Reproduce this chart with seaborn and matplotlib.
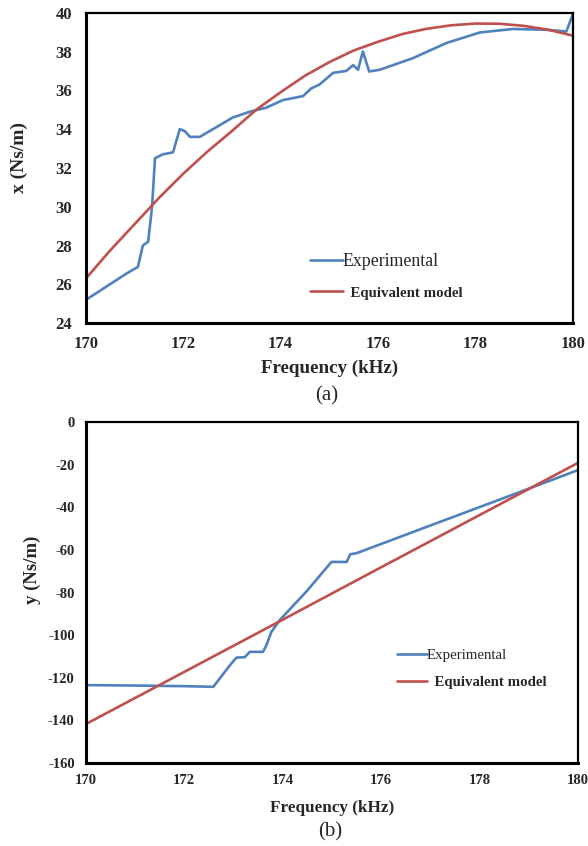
import matplotlib
matplotlib.use("Agg")
import matplotlib.pyplot as plt
import seaborn as sns
import pandas as pd

# ---- panel (a): x coefficient ----
freq_a_exp = [170.0, 170.83, 171.07, 171.17, 171.28, 171.36, 171.42, 171.58, 171.79,
              171.93, 172.03, 172.14, 172.34, 172.68, 173.02, 173.37, 173.7, 174.05,
              174.46, 174.63, 174.8, 175.08, 175.35, 175.49, 175.59, 175.69, 175.82,
              176.04, 176.72, 177.41, 178.09, 178.77, 179.46, 179.87, 180.0]
x_exp = [25.2, 26.55, 26.9, 28.0, 28.2, 30.0, 32.5, 32.7, 32.8,
         34.0, 33.9, 33.6, 33.6, 34.1, 34.6, 34.9, 35.1, 35.5,
         35.7, 36.1, 36.3, 36.9, 37.0, 37.3, 37.06, 38.0, 36.97,
         37.06, 37.66, 38.44, 38.98, 39.16, 39.12, 39.03, 39.9]

freq_a_model = [170.0, 170.5, 171.0, 171.5, 172.0, 172.5, 173.0, 173.5, 174.0, 174.5,
                175.0, 175.5, 176.0, 176.5, 177.0, 177.5, 178.0, 178.5, 179.0, 179.5, 180.0]
x_model = [26.3, 27.75, 29.1, 30.45, 31.7, 32.85, 33.9, 35.0, 35.9, 36.75,
           37.45, 38.05, 38.5, 38.9, 39.17, 39.35, 39.44, 39.43, 39.32, 39.12, 38.82]

# ---- panel (b): y coefficient ----
freq_b_exp = [170.0, 171.0, 172.0, 172.59, 172.93, 173.06, 173.23, 173.33, 173.6,
              173.67, 173.77, 173.94, 174.5, 174.99, 175.3, 175.37, 175.5, 177.0,
              178.69, 180.0]
y_exp = [-123.4, -123.6, -123.9, -124.2, -114.0, -110.5, -110.3, -107.8, -107.8,
         -104.6, -98.4, -92.9, -79.0, -65.6, -65.6, -62.0, -61.5, -48.5,
         -33.9, -22.5]

freq_b_model = [170.0, 172.0, 174.0, 176.0, 178.0, 180.0]
y_model = [-141.7, -117.2, -92.7, -68.1, -43.6, -19.1]

x_ticks = [170, 172, 174, 176, 178, 180]
a_yticks = [24, 26, 28, 30, 32, 34, 36, 38, 40]
b_yticks = [0, -20, -40, -60, -80, -100, -120, -140, -160]

BLUE = "#4f81bd"
RED = "#c0504d"

sns.set_style("white")
plt.rcParams["font.family"] = ["Liberation Serif", "DejaVu Serif"]
plt.rcParams["axes.unicode_minus"] = False

fig = plt.figure(figsize=(5.88, 8.46), dpi=100)
ax_a = fig.add_axes([0.146, 0.618, 0.828, 0.367])
ax_b = fig.add_axes([0.146, 0.098, 0.837, 0.403])

df_a_exp = pd.DataFrame({"f": freq_a_exp, "v": x_exp})
df_a_mod = pd.DataFrame({"f": freq_a_model, "v": x_model})
df_b_exp = pd.DataFrame({"f": freq_b_exp, "v": y_exp})
df_b_mod = pd.DataFrame({"f": freq_b_model, "v": y_model})

sns.lineplot(data=df_a_exp, x="f", y="v", ax=ax_a, color=BLUE, lw=1.9,
             label="Experimental", sort=False)
sns.lineplot(data=df_a_mod, x="f", y="v", ax=ax_a, color=RED, lw=1.9,
             label="  Equivalent model", sort=False)
sns.lineplot(data=df_b_exp, x="f", y="v", ax=ax_b, color=BLUE, lw=1.9,
             label="Experimental", sort=False)
sns.lineplot(data=df_b_mod, x="f", y="v", ax=ax_b, color=RED, lw=1.9,
             label="  Equivalent model", sort=False)


def style_axes(ax, yticks, ylim, ylabel, tick_size, xpad, ypad,
               xlabel_size, ylabel_size, xlabelpad):
    ax.set_xlim(170, 180)
    ax.set_ylim(*ylim)
    ax.set_xticks(x_ticks)
    ax.set_yticks(yticks)
    ax.set_xticklabels([str(t) for t in x_ticks])
    ax.set_yticklabels([str(t) for t in yticks])
    ax.tick_params(axis="both", length=0, labelsize=tick_size)
    ax.tick_params(axis="x", pad=xpad)
    ax.tick_params(axis="y", pad=ypad)
    for lab in ax.get_xticklabels() + ax.get_yticklabels():
        lab.set_fontweight("bold")
    for side in ["left", "bottom"]:
        ax.spines[side].set_linewidth(2.2)
        ax.spines[side].set_color("black")
    for side in ["top", "right"]:
        ax.spines[side].set_linewidth(1.6)
        ax.spines[side].set_color("black")
    ax.set_xlabel("Frequency (kHz)", fontsize=xlabel_size, fontweight="bold",
                  labelpad=xlabelpad)
    ax.set_ylabel(ylabel, fontsize=ylabel_size, fontweight="bold")


style_axes(ax_a, a_yticks, (24, 40), "x (Ns/m)", 12, 9, 10, 13.7, 14, 6)
style_axes(ax_b, b_yticks, (-160, 0), "y (Ns/m)", 10.5, 8, 8, 12.3, 13.5, 9)
ax_a.yaxis.set_label_coords(-0.119, 0.535)
ax_b.yaxis.set_label_coords(-0.091, 0.566)

leg_a = ax_a.legend(loc="upper left", bbox_to_anchor=(0.427, 0.278), frameon=False,
                    handlelength=1.85, handletextpad=0.0, labelspacing=0.85,
                    fontsize=12.8)
leg_a.get_texts()[1].set_fontweight("bold")
leg_a.get_texts()[1].set_fontsize(10.7)

leg_b = ax_b.legend(loc="upper left", bbox_to_anchor=(0.605, 0.375), frameon=False,
                    handlelength=2.0, handletextpad=0.0, labelspacing=0.9,
                    fontsize=10.7)
leg_b.get_texts()[1].set_fontweight("bold")
leg_b.get_texts()[1].set_fontsize(10.7)

fig.text(327 / 588, 1 - 396 / 846, "(a)", ha="center", va="center", fontsize=15)
fig.text(330 / 588, 1 - 832 / 846, "(b)", ha="center", va="center", fontsize=15)

fig.savefig("out.png", dpi=100, facecolor="white")
